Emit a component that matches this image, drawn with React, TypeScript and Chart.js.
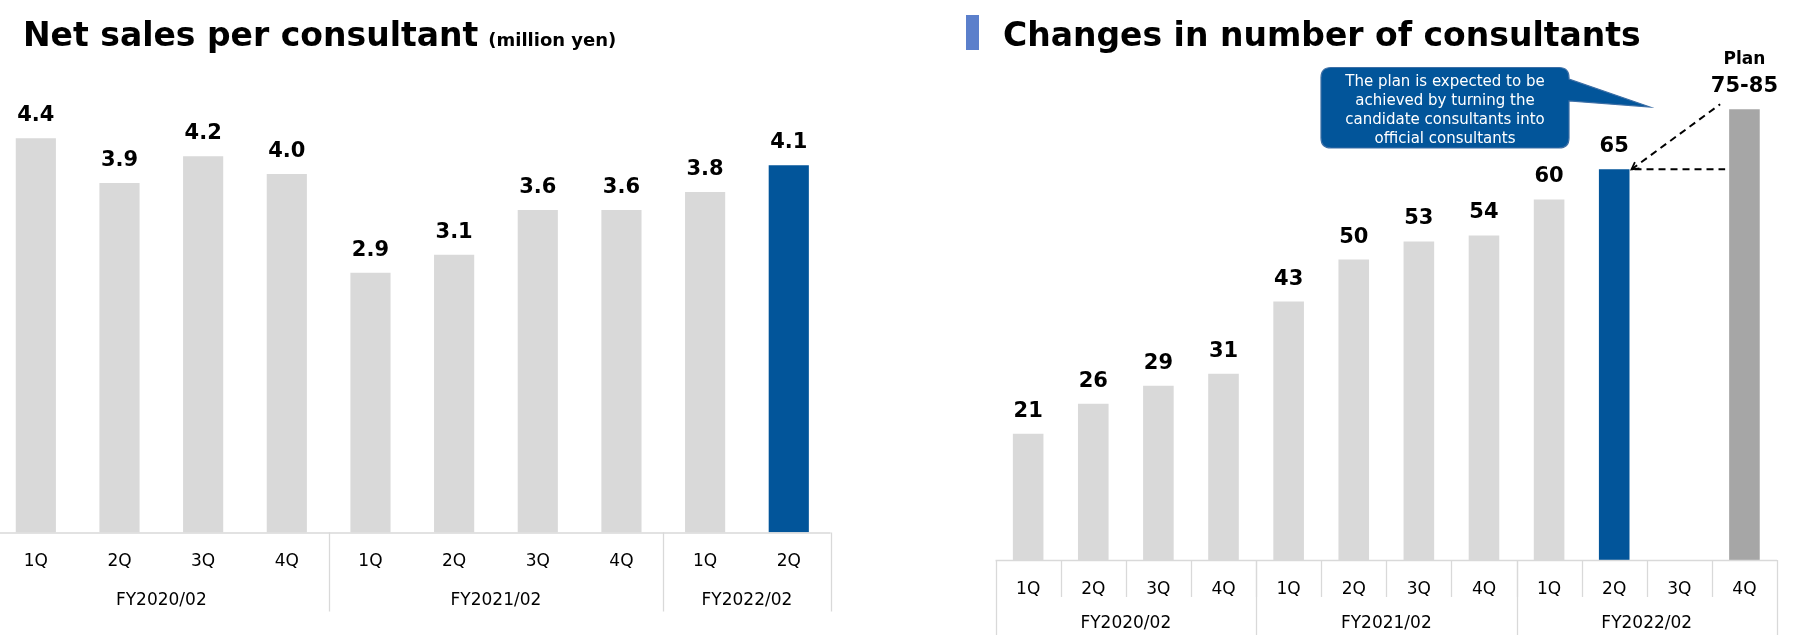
import React, { useEffect, useRef } from "react";
import { Chart, registerables } from "chart.js";

Chart.register(...registerables);

// ---------- data ----------
const salesQuarters = ["1Q", "2Q", "3Q", "4Q", "1Q", "2Q", "3Q", "4Q", "1Q", "2Q"];
const salesPerConsultant = [4.4, 3.9, 4.2, 4.0, 2.9, 3.1, 3.6, 3.6, 3.8, 4.1];
const salesYears = ["FY2020/02", "FY2021/02", "FY2022/02"];
const salesYearSizes = [4, 4, 2];

const consultantQuarters = ["1Q", "2Q", "3Q", "4Q", "1Q", "2Q", "3Q", "4Q", "1Q", "2Q", "3Q", "4Q"];
const consultantCounts = [21, 26, 29, 31, 43, 50, 53, 54, 60, 65, null, 75];
const consultantYears = ["FY2020/02", "FY2021/02", "FY2022/02"];
const consultantYearSizes = [4, 4, 4];
const planTitle = "Plan";
const planRange = "75-85";
const calloutLines = [
  "The plan is expected to be",
  "achieved by turning the",
  "candidate consultants into",
  "official consultants",
];

const leftTitle = "Net sales per consultant";
const leftUnit = "(million yen)";
const rightTitle = "Changes in number of consultants";

// ---------- styles ----------
const FONT = "'DejaVu Sans', Verdana, sans-serif";
const GRAY = "#d9d9d9";
const BLUE = "#02559a";
const PLAN_GRAY = "#a6a6a6";
const LINE = "#d9d9d9";

function drawAxisGroups(
  chart: any,
  quarters: string[],
  years: string[],
  sizes: number[],
  o: { qBase: number; yBase: number; yearLineEnd: number; quarterSep: number }
) {
  const ctx = chart.ctx;
  const { left, right, bottom } = chart.chartArea;
  const n = quarters.length;
  const w = (right - left) / n;
  ctx.save();
  ctx.strokeStyle = LINE;
  ctx.lineWidth = 1.3;
  ctx.beginPath();
  ctx.moveTo(left, bottom + 0.5);
  ctx.lineTo(right, bottom + 0.5);
  ctx.stroke();
  if (o.quarterSep > 0) {
    for (let i = 1; i < n; i++) {
      const x = Math.round(left + i * w) + 0.5;
      ctx.beginPath();
      ctx.moveTo(x, bottom);
      ctx.lineTo(x, bottom + o.quarterSep);
      ctx.stroke();
    }
  }
  let acc = 0;
  const bounds = [0];
  sizes.forEach((s) => {
    acc += s;
    bounds.push(acc);
  });
  bounds.forEach((b) => {
    const x = Math.round(left + b * w) + 0.5;
    ctx.beginPath();
    ctx.moveTo(x, bottom);
    ctx.lineTo(x, bottom + o.yearLineEnd);
    ctx.stroke();
  });
  ctx.fillStyle = "#000";
  ctx.font = `17px ${FONT}`;
  ctx.textAlign = "center";
  ctx.textBaseline = "alphabetic";
  quarters.forEach((q, i) => {
    ctx.fillText(q, left + (i + 0.5) * w, bottom + o.qBase);
  });
  years.forEach((y, i) => {
    const cx = left + ((bounds[i] + bounds[i + 1]) / 2) * w;
    ctx.fillText(y, cx, bottom + o.yBase);
  });
  ctx.restore();
}

function LeftChart() {
  const ref = useRef<HTMLCanvasElement>(null);
  useEffect(() => {
    const canvasLeft = -6;
    const chart = new Chart(ref.current!, {
      type: "bar",
      data: {
        labels: salesQuarters,
        datasets: [
          {
            data: salesPerConsultant,
            backgroundColor: salesPerConsultant.map((_, i) =>
              i === salesPerConsultant.length - 1 ? BLUE : GRAY
            ),
            borderWidth: 0,
            barPercentage: 0.48,
            categoryPercentage: 1,
          },
        ],
      },
      options: {
        animation: false,
        responsive: false,
        devicePixelRatio: 1,
        layout: { padding: { left: 0, right: 8.4, top: 84.5, bottom: 102.5 } },
        plugins: { legend: { display: false }, tooltip: { enabled: false }, title: { display: false } },
        scales: {
          x: { display: false },
          y: { display: false, min: 0, max: 5 },
        },
      },
      plugins: [
        {
          id: "leftDeco",
          afterDatasetsDraw(c: any) {
            const ctx = c.ctx;
            const meta = c.getDatasetMeta(0);
            ctx.save();
            ctx.fillStyle = "#000";
            ctx.font = `bold 21px ${FONT}`;
            ctx.textAlign = "center";
            ctx.textBaseline = "alphabetic";
            meta.data.forEach((el: any, i: number) => {
              ctx.fillText(salesPerConsultant[i].toFixed(1), el.x, el.y - 17);
            });
            ctx.textAlign = "left";
            ctx.font = `bold 33px ${FONT}`;
            const tx = 23 - canvasLeft;
            ctx.fillText(leftTitle, tx, 45.5);
            const tw = ctx.measureText(leftTitle).width;
            ctx.font = `bold 18px ${FONT}`;
            ctx.fillText(leftUnit, tx + tw + 10, 45.5);
            ctx.restore();
            drawAxisGroups(c, salesQuarters, salesYears, salesYearSizes, {
              qBase: 33.5,
              yBase: 72.5,
              yearLineEnd: 79,
              quarterSep: 0,
            });
          },
        },
      ],
    } as any);
    return () => chart.destroy();
  }, []);
  return (
    <canvas
      ref={ref}
      width={845}
      height={635}
      style={{ position: "absolute", left: -6, top: 0, width: 845, height: 635 }}
    />
  );
}

function RightChart() {
  const ref = useRef<HTMLCanvasElement>(null);
  useEffect(() => {
    const canvasLeft = 950;
    const lastBlue = 9;
    const planIdx = consultantCounts.length - 1;
    const chart = new Chart(ref.current!, {
      type: "bar",
      data: {
        labels: consultantQuarters,
        datasets: [
          {
            data: consultantCounts,
            backgroundColor: consultantCounts.map((_, i) =>
              i === lastBlue ? BLUE : i === planIdx ? PLAN_GRAY : GRAY
            ),
            borderWidth: 0,
            barPercentage: 0.47,
            categoryPercentage: 1,
          },
        ],
      },
      options: {
        animation: false,
        responsive: false,
        devicePixelRatio: 1,
        layout: { padding: { left: 45.6, right: 23, top: 19.1, bottom: 75 } },
        plugins: { legend: { display: false }, tooltip: { enabled: false }, title: { display: false } },
        scales: {
          x: { display: false },
          y: { display: false, min: 0, max: 90 },
        },
      },
      plugins: [
        {
          id: "rightDeco",
          afterDatasetsDraw(c: any) {
            const ctx = c.ctx;
            const meta = c.getDatasetMeta(0);
            ctx.save();
            ctx.fillStyle = "#000";
            ctx.textAlign = "center";
            ctx.textBaseline = "alphabetic";
            meta.data.forEach((el: any, i: number) => {
              const v = consultantCounts[i];
              if (v === null || v === undefined) return;
              ctx.font = `bold 21px ${FONT}`;
              if (i === planIdx) {
                ctx.fillText(planRange, el.x, el.y - 17);
                ctx.font = `bold 17px ${FONT}`;
                ctx.fillText(planTitle, el.x, el.y - 45);
              } else {
                ctx.fillText(String(v), el.x, el.y - 17);
              }
            });

            // dashed guide lines from the latest bar to the plan bar
            const b = meta.data[lastBlue] as any;
            const p = meta.data[planIdx] as any;
            const sx = b.x + b.width / 2 + 2;
            const sy = b.y;
            const pl = p.x - p.width / 2;
            ctx.strokeStyle = "#000";
            ctx.lineWidth = 2;
            ctx.setLineDash([7, 5]);
            ctx.beginPath();
            ctx.moveTo(sx + 3, sy);
            ctx.lineTo(pl - 4, sy);
            ctx.stroke();
            const dx2 = pl - 9;
            const dy2 = p.y - 5;
            ctx.beginPath();
            ctx.moveTo(sx, sy);
            ctx.lineTo(dx2, dy2);
            ctx.stroke();
            ctx.setLineDash([]);
            const ang = Math.atan2(dy2 - sy, dx2 - sx);
            const ah = 8;
            ctx.lineWidth = 1.8;
            ctx.beginPath();
            ctx.moveTo(sx + ah * Math.cos(ang + 0.5), sy + ah * Math.sin(ang + 0.5));
            ctx.lineTo(sx, sy);
            ctx.lineTo(sx + ah * Math.cos(ang - 0.5), sy + ah * Math.sin(ang - 0.5));
            ctx.stroke();

            // callout
            const x0 = 1321 - canvasLeft;
            const x1 = 1569 - canvasLeft;
            const y0 = 67.5;
            const y1 = 148;
            const r = 10;
            const tipX = 1650 - canvasLeft;
            const tipY = 107;
            ctx.beginPath();
            ctx.moveTo(x0 + r, y0);
            ctx.lineTo(x1 - r, y0);
            ctx.quadraticCurveTo(x1, y0, x1, y0 + r);
            ctx.lineTo(x1, 79);
            ctx.lineTo(tipX, tipY);
            ctx.lineTo(x1, 101);
            ctx.lineTo(x1, y1 - r);
            ctx.quadraticCurveTo(x1, y1, x1 - r, y1);
            ctx.lineTo(x0 + r, y1);
            ctx.quadraticCurveTo(x0, y1, x0, y1 - r);
            ctx.lineTo(x0, y0 + r);
            ctx.quadraticCurveTo(x0, y0, x0 + r, y0);
            ctx.closePath();
            ctx.fillStyle = BLUE;
            ctx.fill();
            ctx.strokeStyle = "#3d6fa6";
            ctx.lineWidth = 1.2;
            ctx.stroke();
            ctx.fillStyle = "#ffffff";
            ctx.font = `15px ${FONT}`;
            ctx.textAlign = "center";
            const cx = (x0 + x1) / 2;
            [86, 105, 124, 143].forEach((yy, i) => ctx.fillText(calloutLines[i], cx, yy));

            // title
            ctx.fillStyle = "#5b7fcb";
            ctx.fillRect(966 - canvasLeft, 15, 13, 35);
            ctx.fillStyle = "#000";
            ctx.textAlign = "left";
            ctx.font = `bold 33px ${FONT}`;
            ctx.fillText(rightTitle, 1003 - canvasLeft, 45.5);
            ctx.restore();

            drawAxisGroups(c, consultantQuarters, consultantYears, consultantYearSizes, {
              qBase: 34,
              yBase: 68,
              yearLineEnd: 100,
              quarterSep: 37,
            });
          },
        },
      ],
    } as any);
    return () => chart.destroy();
  }, []);
  return (
    <canvas
      ref={ref}
      width={850}
      height={635}
      style={{ position: "absolute", left: 950, top: 0, width: 850, height: 635 }}
    />
  );
}

export default function App() {
  return (
    <div
      style={{
        position: "absolute",
        left: 0,
        top: 0,
        width: 1815,
        height: 635,
        overflow: "hidden",
        background: "#ffffff",
      }}
    >
      <LeftChart />
      <RightChart />
    </div>
  );
}
